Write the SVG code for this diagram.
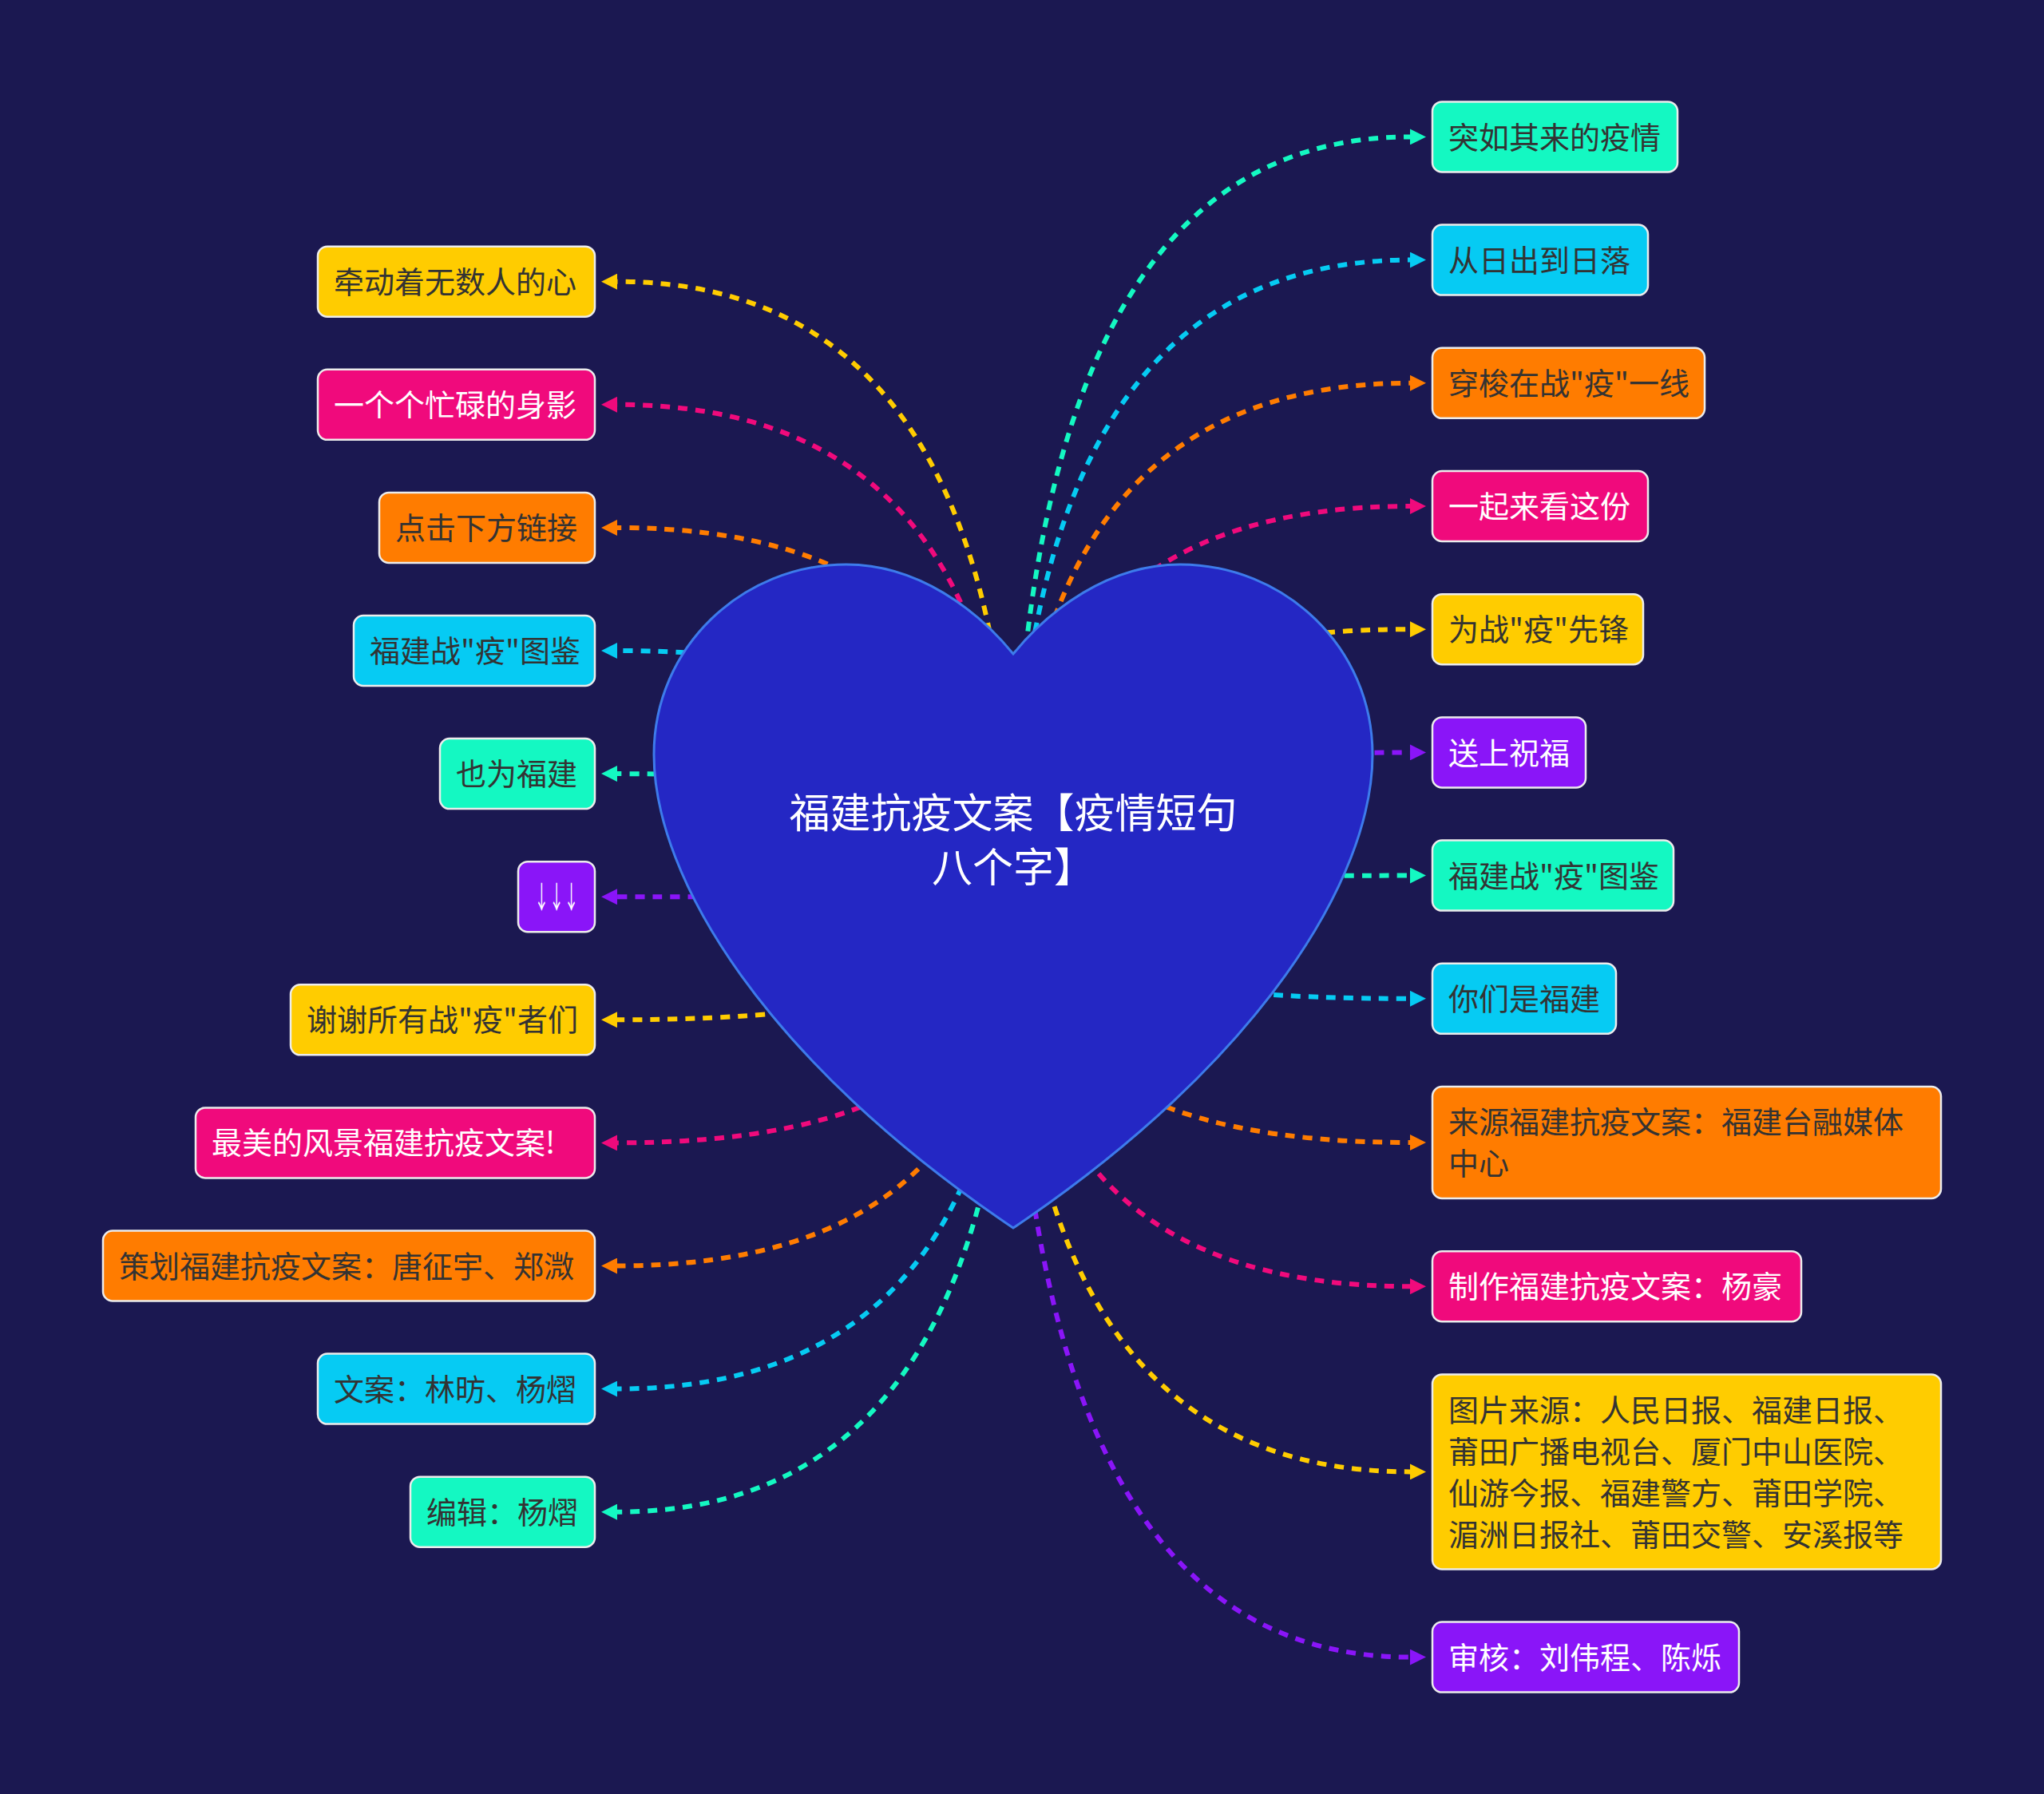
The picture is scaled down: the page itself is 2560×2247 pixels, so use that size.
<svg xmlns="http://www.w3.org/2000/svg" width="2560" height="2247" viewBox="0 0 2560 2247">
<style>
.bg{fill:#1b1851}
.c{fill:none;stroke-width:6;stroke-dasharray:12 10}
.box{stroke:#ececec;stroke-width:2.5}
.t{font-family:"Noto Sans CJK SC","Noto Sans",sans-serif;font-size:38px}
.dk{fill:#333333}
.wt{fill:#ffffff}
.yel{fill:#ffcc00}.pnk{fill:#f00a7c}.org{fill:#ff7c00}.cyn{fill:#06cbf3}.tel{fill:#14f8c2}.pur{fill:#8a15f8}
.cy{stroke:#ffcc00}.cp{stroke:#f00a7c}.co{stroke:#ff7c00}.cc{stroke:#06cbf3}.ct{stroke:#14f8c2}.cu{stroke:#8a15f8}
.heart{fill:#2427c4;stroke:#3d7beb;stroke-width:3}
.center{font-family:"Noto Sans CJK SC","Noto Sans",sans-serif;font-size:51px;fill:#ffffff}
</style>
<defs>
<marker id="ay" viewBox="0 0 20 20" refX="0" refY="10" markerWidth="20" markerHeight="20" markerUnits="userSpaceOnUse" orient="auto"><path d="M0,0 L20,10 L0,20 z" fill="#ffcc00"/></marker>
<marker id="ap" viewBox="0 0 20 20" refX="0" refY="10" markerWidth="20" markerHeight="20" markerUnits="userSpaceOnUse" orient="auto"><path d="M0,0 L20,10 L0,20 z" fill="#f00a7c"/></marker>
<marker id="ao" viewBox="0 0 20 20" refX="0" refY="10" markerWidth="20" markerHeight="20" markerUnits="userSpaceOnUse" orient="auto"><path d="M0,0 L20,10 L0,20 z" fill="#ff7c00"/></marker>
<marker id="ac" viewBox="0 0 20 20" refX="0" refY="10" markerWidth="20" markerHeight="20" markerUnits="userSpaceOnUse" orient="auto"><path d="M0,0 L20,10 L0,20 z" fill="#06cbf3"/></marker>
<marker id="at" viewBox="0 0 20 20" refX="0" refY="10" markerWidth="20" markerHeight="20" markerUnits="userSpaceOnUse" orient="auto"><path d="M0,0 L20,10 L0,20 z" fill="#14f8c2"/></marker>
<marker id="au" viewBox="0 0 20 20" refX="0" refY="10" markerWidth="20" markerHeight="20" markerUnits="userSpaceOnUse" orient="auto"><path d="M0,0 L20,10 L0,20 z" fill="#8a15f8"/></marker>
</defs>
<rect class="bg" x="0" y="0" width="2560" height="2247"/>

<g id="connectors">
<path class="c cy" marker-end="url(#ay)" d="M1269,1120 Q1269,352.7 773,352.7"/>
<path class="c cp" marker-end="url(#ap)" d="M1269,1120 Q1269,506.8 773,506.8"/>
<path class="c co" marker-end="url(#ao)" d="M1269,1120 Q1269,660.9 773,660.9"/>
<path class="c cc" marker-end="url(#ac)" d="M1269,1120 Q1269,815 773,815"/>
<path class="c ct" marker-end="url(#at)" d="M1269,1120 Q1269,969.1 773,969.1"/>
<path class="c cu" marker-end="url(#au)" d="M1269,1120 Q1269,1123.2 773,1123.2"/>
<path class="c cy" marker-end="url(#ay)" d="M1269,1120 Q1269,1277.3 773,1277.3"/>
<path class="c cp" marker-end="url(#ap)" d="M1269,1120 Q1269,1431.4 773,1431.4"/>
<path class="c co" marker-end="url(#ao)" d="M1269,1120 Q1269,1585.5 773,1585.5"/>
<path class="c cc" marker-end="url(#ac)" d="M1269,1120 Q1269,1739.6 773,1739.6"/>
<path class="c ct" marker-end="url(#at)" d="M1269,1120 Q1269,1893.7 773,1893.7"/>
<path class="c ct" marker-end="url(#at)" d="M1269,1120 Q1269,171.4 1766,171.4"/>
<path class="c cc" marker-end="url(#ac)" d="M1269,1120 Q1269,325.6 1766,325.6"/>
<path class="c co" marker-end="url(#ao)" d="M1269,1120 Q1269,479.8 1766,479.8"/>
<path class="c cp" marker-end="url(#ap)" d="M1269,1120 Q1269,634 1766,634"/>
<path class="c cy" marker-end="url(#ay)" d="M1269,1120 Q1269,788.2 1766,788.2"/>
<path class="c cu" marker-end="url(#au)" d="M1269,1120 Q1269,942.4 1766,942.4"/>
<path class="c ct" marker-end="url(#at)" d="M1269,1120 Q1269,1096.6 1766,1096.6"/>
<path class="c cc" marker-end="url(#ac)" d="M1269,1120 Q1269,1250.8 1766,1250.8"/>
<path class="c co" marker-end="url(#ao)" d="M1269,1120 Q1269,1431 1766,1431"/>
<path class="c cp" marker-end="url(#ap)" d="M1269,1120 Q1269,1611.2 1766,1611.2"/>
<path class="c cy" marker-end="url(#ay)" d="M1269,1120 Q1269,1843.4 1766,1843.4"/>
<path class="c cu" marker-end="url(#au)" d="M1269,1120 Q1269,2075.6 1766,2075.6"/>
</g>

<g id="root">
<path class="heart" d="M1269,819 C1224,764 1150,707 1060,707 C930,707 819,810 819,945 C819,1100 960,1330 1269,1538 C1578,1330 1719,1100 1719,945 C1719,810 1608,707 1478,707 C1388,707 1314,764 1269,819 Z"/>
<text class="center" x="1269" y="1037" text-anchor="middle">福建抗疫文案【疫情短句</text>
<text class="center" x="1269" y="1105" text-anchor="middle">八个字】</text>
</g>

<g id="L1"><rect class="box yel" x="398" y="308.7" width="347" height="88" rx="12"/><text class="t dk" x="418" y="367">牵动着无数人的心</text></g>
<g id="L2"><rect class="box pnk" x="398" y="462.8" width="347" height="88" rx="12"/><text class="t wt" x="418" y="521">一个个忙碌的身影</text></g>
<g id="L3"><rect class="box org" x="475" y="616.9" width="270" height="88" rx="12"/><text class="t dk" x="495" y="675">点击下方链接</text></g>
<g id="L4"><rect class="box cyn" x="443" y="771" width="302" height="88" rx="12"/><text class="t dk" x="463" y="829">福建战"疫"图鉴</text></g>
<g id="L5"><rect class="box tel" x="551" y="925.1" width="194" height="88" rx="12"/><text class="t dk" x="571" y="983">也为福建</text></g>
<g id="L6"><rect class="box pur" x="649" y="1079.2" width="96" height="88" rx="12"/><text class="t wt" x="697" y="1137" text-anchor="middle" textLength="56" lengthAdjust="spacingAndGlyphs">↓↓↓</text></g>
<g id="L7"><rect class="box yel" x="364" y="1233.3" width="381" height="88" rx="12"/><text class="t dk" x="384" y="1291">谢谢所有战"疫"者们</text></g>
<g id="L8"><rect class="box pnk" x="245" y="1387.4" width="500" height="88" rx="12"/><text class="t wt" x="265" y="1445">最美的风景福建抗疫文案!</text></g>
<g id="L9"><rect class="box org" x="129" y="1541.5" width="616" height="88" rx="12"/><text class="t dk" x="149" y="1600">策划福建抗疫文案：唐征宇、郑溦</text></g>
<g id="L10"><rect class="box cyn" x="398" y="1695.6" width="347" height="88" rx="12"/><text class="t dk" x="418" y="1754">文案：林昉、杨熠</text></g>
<g id="L11"><rect class="box tel" x="514" y="1849.7" width="231" height="88" rx="12"/><text class="t dk" x="534" y="1908">编辑：杨熠</text></g>

<g id="R1"><rect class="box tel" x="1794" y="127.4" width="307" height="88" rx="12"/><text class="t dk" x="1814" y="186">突如其来的疫情</text></g>
<g id="R2"><rect class="box cyn" x="1794" y="281.6" width="270" height="88" rx="12"/><text class="t dk" x="1814" y="340">从日出到日落</text></g>
<g id="R3"><rect class="box org" x="1794" y="435.8" width="341" height="88" rx="12"/><text class="t dk" x="1814" y="494">穿梭在战"疫"一线</text></g>
<g id="R4"><rect class="box pnk" x="1794" y="590" width="270" height="88" rx="12"/><text class="t wt" x="1814" y="648">一起来看这份</text></g>
<g id="R5"><rect class="box yel" x="1794" y="744.2" width="264" height="88" rx="12"/><text class="t dk" x="1814" y="802">为战"疫"先锋</text></g>
<g id="R6"><rect class="box pur" x="1794" y="898.4" width="192" height="88" rx="12"/><text class="t wt" x="1814" y="957">送上祝福</text></g>
<g id="R7"><rect class="box tel" x="1794" y="1052.6" width="302" height="88" rx="12"/><text class="t dk" x="1814" y="1111">福建战"疫"图鉴</text></g>
<g id="R8"><rect class="box cyn" x="1794" y="1206.8" width="230" height="88" rx="12"/><text class="t dk" x="1814" y="1265">你们是福建</text></g>
<g id="R9"><rect class="box org" x="1794" y="1361" width="637" height="140" rx="12"/><text class="t dk"><tspan x="1814" y="1419">来源福建抗疫文案：福建台融媒体</tspan><tspan x="1814" y="1471">中心</tspan></text></g>
<g id="R10"><rect class="box pnk" x="1794" y="1567.2" width="462" height="88" rx="12"/><text class="t wt" x="1814" y="1625">制作福建抗疫文案：杨豪</text></g>
<g id="R11"><rect class="box yel" x="1794" y="1721.4" width="637" height="244" rx="12"/><text class="t dk"><tspan x="1814" y="1780">图片来源：人民日报、福建日报、</tspan><tspan x="1814" y="1832">莆田广播电视台、厦门中山医院、</tspan><tspan x="1814" y="1884">仙游今报、福建警方、莆田学院、</tspan><tspan x="1814" y="1936">湄洲日报社、莆田交警、安溪报等</tspan></text></g>
<g id="R12"><rect class="box pur" x="1794" y="2031.6" width="384" height="88" rx="12"/><text class="t wt" x="1814" y="2090">审核：刘伟程、陈烁</text></g>
</svg>
